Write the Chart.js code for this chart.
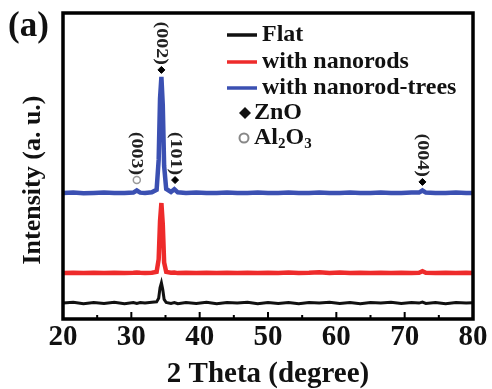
<!DOCTYPE html>
<html>
<head>
<meta charset="utf-8">
<script src="https://cdn.jsdelivr.net/npm/chart.js@4.4.1/dist/chart.umd.min.js"></script>
<style>
    html, body { margin: 0; padding: 0; background: #fff; }
    #wrap { width: 492px; height: 389px; position: relative; }
</style>
</head>
<body>
<div id="wrap"><canvas id="xrdChart"></canvas></div>
<script>
// ==========================================
// 1. DATA
// ==========================================
const thetaX = [20, 21.5, 23, 24.5, 26, 27.5, 29, 30.3, 30.8, 31.3, 32, 33, 33.7, 34.0, 34.2, 34.4, 34.6, 34.8, 35.1,
    35.8, 36.3, 36.8, 38, 39.5, 41, 42.5, 44, 45.5, 47, 48.5, 50, 51.5, 53, 54.5, 56, 57.5, 59, 60.5, 62,
    63.5, 65, 66.5, 68, 69.5, 71, 72.1, 72.6, 73.1, 74.5, 76, 77.5, 79, 80];

// Flat (black) - noisy baseline with a weak (002) peak
const flatY = [5.2, 5.5, 5.0, 5.4, 5.1, 5.5, 5.0, 5.4, 5.1, 5.4, 5.2, 5.5, 5.6, 6.8, 10.2, 11.8, 9.6, 6.4, 5.4,
    5.1, 5.4, 5.0, 5.4, 5.1, 5.5, 5.0, 5.4, 5.2, 5.5, 5.0, 5.4, 5.1, 5.4, 5.0, 5.4, 5.2, 5.5, 5.1, 5.4,
    5.0, 5.4, 5.2, 5.5, 5.1, 5.4, 5.2, 5.5, 5.1, 5.4, 5.0, 5.4, 5.2, 5.3];

// With nanorods (red)
const nanorodY = [15.0, 15.1, 15.0, 15.1, 15.0, 15.1, 15.0, 15.1, 15.2, 15.1, 15.0, 15.1, 15.4, 19.5, 32.0, 37.9, 31.0, 18.5, 15.4,
    15.1, 15.2, 15.0, 15.1, 15.0, 15.1, 15.0, 15.1, 15.0, 15.1, 15.0, 15.1, 15.0, 15.2, 15.0, 15.1, 15.3, 15.0, 15.2, 15.0,
    15.1, 15.0, 15.1, 15.0, 15.1, 15.0, 15.1, 15.6, 15.1, 15.0, 15.1, 15.0, 15.1, 15.0];

// With nanorod-trees (blue)
const treeY = [41.2, 41.3, 41.1, 41.2, 41.3, 41.2, 41.2, 41.3, 42.0, 41.3, 41.2, 41.4, 42.2, 52.0, 72.0, 79.1, 70.0, 50.0, 42.5,
    41.5, 42.4, 41.4, 41.2, 41.3, 41.2, 41.2, 41.3, 41.2, 41.2, 41.3, 41.2, 41.2, 41.3, 41.2, 41.2, 41.3, 41.2, 41.2, 41.3,
    41.2, 41.2, 41.3, 41.2, 41.2, 41.3, 41.3, 42.0, 41.3, 41.2, 41.2, 41.3, 41.2, 41.2];

// Peak markers + Miller index labels
const znoTheta = [34.4, 36.4, 72.6];
const znoY = [81.4, 45.4, 44.8];
const znoLabels = ['(002)', '(101)', '(004)'];
const aloTheta = [30.8];
const aloY = [45.4];
const aloLabels = ['(003)'];

const xTicks = [20, 30, 40, 50, 60, 70, 80];
const xMinorTicks = [25, 35, 45, 55, 65, 75];

const seriesNames = ['Flat', 'with nanorods', 'with nanorod-trees'];
const seriesColors = ['#111111', '#ee2b2b', '#3b50b2'];

const SERIF = '"Liberation Serif", "Times New Roman", serif';

function toPoints(xs, ys) {
    return xs.map((x, i) => ({ x: x, y: ys[i] }));
}

// ==========================================
// 2. PLUGINS (frame, ticks, legend, labels)
// ==========================================
const framePlugin = {
    id: 'frame',
    afterDatasetsDraw(chart) {
        const { ctx, chartArea: a, scales } = chart;
        ctx.save();
        ctx.strokeStyle = '#000';
        ctx.lineWidth = 3.5;
        ctx.strokeRect(a.left, a.top, a.right - a.left, a.bottom - a.top);

        // inward ticks on the bottom axis
        ctx.lineWidth = 2;
        ctx.beginPath();
        xTicks.forEach(v => {
            const px = scales.x.getPixelForValue(v);
            ctx.moveTo(px, a.bottom);
            ctx.lineTo(px, a.bottom - 7);
        });
        xMinorTicks.forEach(v => {
            const px = scales.x.getPixelForValue(v);
            ctx.moveTo(px, a.bottom);
            ctx.lineTo(px, a.bottom - 4);
        });
        ctx.stroke();

        // panel tag
        ctx.fillStyle = '#111';
        ctx.font = 'bold 35px ' + SERIF;
        ctx.textBaseline = 'middle';
        ctx.textAlign = 'left';
        ctx.fillText('(a)', 8, 27);

        // y axis title (sits a little below the plot centre in the original)
        ctx.save();
        ctx.translate(33, 180);
        ctx.rotate(-Math.PI / 2);
        ctx.textAlign = 'center';
        ctx.font = 'bold 26px ' + SERIF;
        ctx.fillText('Intensity (a. u.)', 0, 0);
        ctx.restore();
        ctx.restore();
    }
};

const peakLabelPlugin = {
    id: 'peakLabels',
    afterDatasetsDraw(chart) {
        const { ctx, scales } = chart;
        const drawSet = (xs, ys, labels) => {
            xs.forEach((x, i) => {
                const px = scales.x.getPixelForValue(x);
                const py = scales.y.getPixelForValue(ys[i]);
                ctx.save();
                ctx.translate(px, py - 5);
                ctx.rotate(Math.PI / 2);
                ctx.scale(1, 0.85);
                ctx.font = 'bold 20px ' + SERIF;
                ctx.fillStyle = '#222';
                ctx.textAlign = 'right';
                ctx.textBaseline = 'middle';
                ctx.fillText(labels[i], 0, 0);
                ctx.restore();
            });
        };
        drawSet(znoTheta, znoY, znoLabels);
        drawSet(aloTheta, aloY, aloLabels);
    }
};

const legendPlugin = {
    id: 'insideLegend',
    afterDatasetsDraw(chart) {
        const { ctx } = chart;
        const rowsY = [35, 62, 88, 113, 138];
        const textX = 262;
        ctx.save();
        ctx.font = 'bold 24px ' + SERIF;
        ctx.textBaseline = 'middle';
        ctx.textAlign = 'left';
        ctx.fillStyle = '#111';

        seriesNames.forEach((name, i) => {
            ctx.strokeStyle = seriesColors[i];
            ctx.lineWidth = 3.5;
            ctx.beginPath();
            ctx.moveTo(227, rowsY[i]);
            ctx.lineTo(257, rowsY[i]);
            ctx.stroke();
            ctx.fillText(name, textX, rowsY[i]);
        });

        // ZnO diamond
        const dy = rowsY[3];
        ctx.beginPath();
        ctx.moveTo(245, dy - 6);
        ctx.lineTo(251, dy);
        ctx.lineTo(245, dy + 6);
        ctx.lineTo(239, dy);
        ctx.closePath();
        ctx.fill();
        ctx.fillText('ZnO', 254, dy);

        // Al2O3 circle with subscripts
        const cy = rowsY[4];
        ctx.strokeStyle = '#888';
        ctx.lineWidth = 2;
        ctx.beginPath();
        ctx.arc(244, cy, 4.5, 0, Math.PI * 2);
        ctx.stroke();
        let x = 254;
        const parts = [['Al', false], ['2', true], ['O', false], ['3', true]];
        parts.forEach(([t, sub]) => {
            ctx.font = (sub ? 'bold 15px ' : 'bold 24px ') + SERIF;
            ctx.fillText(t, x, sub ? cy + 6 : cy);
            x += ctx.measureText(t).width;
        });
        ctx.restore();
    }
};

// ==========================================
// 3. CHART
// ==========================================
document.addEventListener('DOMContentLoaded', () => {
    const canvas = document.getElementById('xrdChart');
    canvas.width = 492;
    canvas.height = 389;

    const lineData = [flatY, nanorodY, treeY];
    const lineWidths = [3, 4.5, 4.5];

    const datasets = lineData.map((ys, i) => ({
        label: seriesNames[i],
        data: toPoints(thetaX, ys),
        borderColor: seriesColors[i],
        borderWidth: lineWidths[i],
        pointRadius: 0,
        tension: 0,
        fill: false
    }));

    datasets.push({
        label: 'ZnO',
        type: 'scatter',
        data: toPoints(znoTheta, znoY),
        pointStyle: 'rectRot',
        pointRadius: 3.5,
        backgroundColor: '#000',
        borderColor: '#000',
        borderWidth: 1
    });
    datasets.push({
        label: 'Al2O3',
        type: 'scatter',
        data: toPoints(aloTheta, aloY),
        pointStyle: 'circle',
        pointRadius: 3.5,
        backgroundColor: '#fff',
        borderColor: '#999',
        borderWidth: 1.5
    });

    new Chart(canvas.getContext('2d'), {
        type: 'line',
        data: { datasets: datasets },
        options: {
            responsive: false,
            animation: false,
            layout: { padding: { left: 0, right: 19, top: 13, bottom: 0 } },
            plugins: { legend: { display: false }, tooltip: { enabled: false } },
            scales: {
                x: {
                    type: 'linear',
                    min: 20,
                    max: 80,
                    grid: { display: false, drawTicks: false },
                    border: { display: false },
                    ticks: {
                        stepSize: 10,
                        maxRotation: 0,
                        padding: 4,
                        color: '#111',
                        font: { family: SERIF, size: 29, weight: 'bold', lineHeight: 1 }
                    },
                    title: {
                        display: true,
                        text: '2 Theta (degree)',
                        color: '#111',
                        font: { family: SERIF, size: 29, weight: 'bold', lineHeight: 1 },
                        padding: { top: 6, bottom: 0 }
                    },
                    afterFit(scale) { scale.height = 70; }
                },
                y: {
                    min: 0,
                    max: 100,
                    grid: { display: false, drawTicks: false },
                    border: { display: false },
                    ticks: { display: false },
                    title: { display: false },
                    afterFit(scale) { scale.width = 63; }
                }
            }
        },
        plugins: [framePlugin, peakLabelPlugin, legendPlugin]
    });
});
</script>
</body>
</html>
